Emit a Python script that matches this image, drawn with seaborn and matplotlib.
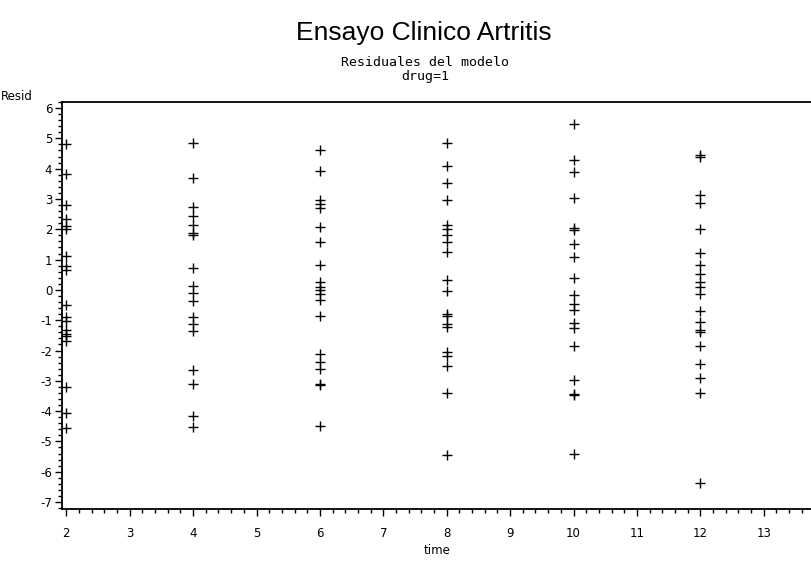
import matplotlib
matplotlib.use("Agg")
import matplotlib.pyplot as plt
from matplotlib.ticker import MultipleLocator
import numpy as np
import pandas as pd
import seaborn as sns

# ---- data ----
resid_t2 = [4.82, 3.82, 2.80, 2.35, 2.12, 2.02, 1.12, 0.78, 0.64,
            -0.50, -0.91, -1.02, -1.33, -1.44, -1.52, -1.68, -3.20, -4.05, -4.55]
resid_t4 = [4.86, 3.70, 2.75, 2.43, 2.13, 1.88, 1.81, 0.72, 0.13, -0.09,
            -0.36, -0.89, -1.11, -1.36, -2.63, -3.09, -4.17, -4.52]
resid_t6 = [4.62, 3.92, 2.98, 2.84, 2.70, 2.08, 1.59, 0.83, 0.25, 0.09,
            -0.01, -0.15, -0.32, -0.87, -2.13, -2.37, -2.60, -3.10, -3.13, -4.48]
resid_t8 = [4.84, 4.09, 3.53, 2.97, 2.13, 2.02, 1.80, 1.57, 1.24, 0.34,
            -0.03, -0.78, -0.87, -1.14, -1.22, -2.06, -2.19, -2.52, -3.41, -5.44]
resid_t10 = [5.47, 4.27, 3.89, 3.04, 2.05, 1.97, 1.52, 1.10, 0.40, -0.16,
             -0.48, -0.65, -1.09, -1.25, -1.86, -2.98, -3.42, -3.46, -5.41]
resid_t12 = [4.44, 4.38, 3.12, 2.87, 2.02, 1.22, 0.81, 0.53, 0.25, 0.09,
             -0.13, -0.70, -1.07, -1.31, -1.40, -1.86, -2.46, -2.90, -3.41, -6.38]

times = [2, 4, 6, 8, 10, 12]
resid_by_time = [resid_t2, resid_t4, resid_t6, resid_t8, resid_t10, resid_t12]

x_ticks = list(range(2, 14))
y_ticks = list(range(-7, 7))

title = "Ensayo Clinico Artritis"
subtitle1 = "Residuales del modelo"
subtitle2 = "drug=1"
x_label = "time"
y_label = "Resid"

df = pd.DataFrame({
    "time": np.concatenate([[t] * len(r) for t, r in zip(times, resid_by_time)]),
    "Resid": np.concatenate(resid_by_time),
})

# ---- style ----
sns.set_style("ticks")
plt.rcParams["font.family"] = ["DejaVu Sans"]
plt.rcParams["text.color"] = "black"
plt.rcParams["xtick.color"] = "black"
plt.rcParams["ytick.color"] = "black"
plt.rcParams["axes.labelcolor"] = "black"
plt.rcParams["axes.unicode_minus"] = False

mono = ["DejaVu Sans Mono", "DejaVu Sans"]

fig = plt.figure(figsize=(8.11, 5.66), dpi=100)
fig.patch.set_facecolor("white")
ax = fig.add_axes([62 / 811, 1 - 509 / 566, 1 - 62 / 811, (509 - 102) / 566])

sns.scatterplot(data=df, x="time", y="Resid", ax=ax, marker="+", s=48,
                color="black", linewidth=1.0, legend=False)

ax.set_xlim(1.932, 13.746)
ax.set_ylim(-7.23, 6.20)
ax.set_xticks(x_ticks)
ax.set_yticks(y_ticks)
ax.xaxis.set_minor_locator(MultipleLocator(0.2))
ax.yaxis.set_minor_locator(MultipleLocator(0.2))
ax.tick_params(axis="both", which="major", direction="out", length=5,
               width=1.0, color="black", labelcolor="black", labelsize=8.5, pad=8)
ax.tick_params(axis="both", which="minor", direction="out", length=3,
               width=1.0, color="black")
ax.tick_params(axis="y", which="major", pad=2)

for side in ["left", "bottom", "top"]:
    ax.spines[side].set_visible(True)
    ax.spines[side].set_color("black")
    ax.spines[side].set_linewidth(1.3)
ax.spines["right"].set_visible(False)
ax.set_facecolor("white")
ax.grid(False)

ax.set_xlabel("")
ax.set_ylabel("")
fig.text(437 / 811, 1 - 551 / 566, x_label, ha="center", va="center",
         fontsize=8.5, color="black")
fig.text(1 / 811, 1 - 96 / 566, y_label, ha="left", va="center",
         fontsize=8.5, color="black")

fig.text(424 / 811, 1 - 33 / 566, title, ha="center", va="center",
         fontsize=19, color="black", family=["Liberation Sans", "DejaVu Sans"])
fig.text(425 / 811, 1 - 62 / 566, subtitle1, ha="center", va="center",
         fontsize=9.5, color="black", family=mono)
fig.text(425 / 811, 1 - 76 / 566, subtitle2, ha="center", va="center",
         fontsize=9.5, color="black", family=mono)

fig.savefig("out.png", dpi=100, facecolor="white")
